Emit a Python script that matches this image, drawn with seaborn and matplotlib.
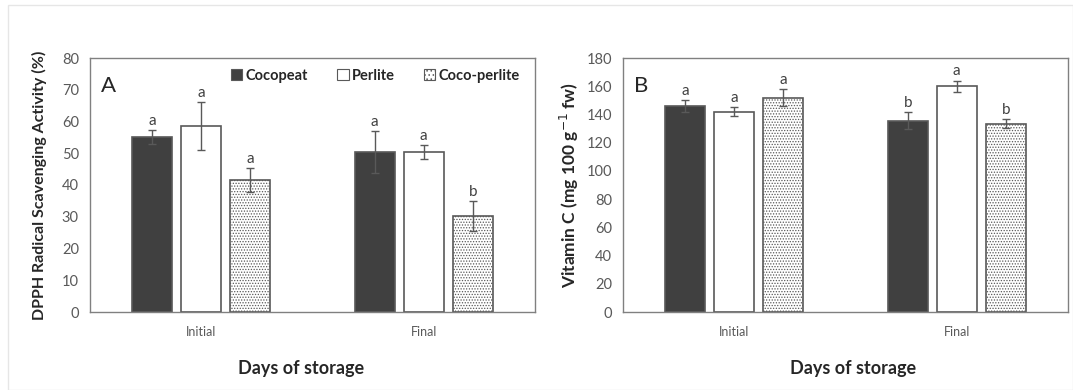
import matplotlib
matplotlib.use("Agg")
import matplotlib.pyplot as plt
import seaborn as sns
import pandas as pd
import numpy as np
from matplotlib.patches import Rectangle, Patch

sns.set_style("white")
plt.rcParams['font.family'] = ['Lato', 'DejaVu Sans']
plt.rcParams['hatch.linewidth'] = 0.6

days = ["Initial", "Final"]
substrates = ["Cocopeat", "Perlite", "Coco-perlite"]

dpph_initial = [55.0, 58.5, 41.5]
dpph_final = [50.5, 50.3, 30.3]
dpph_err_initial = [2.2, 7.6, 3.8]
dpph_err_final = [6.6, 2.2, 4.7]
dpph_letters_initial = ["a", "a", "a"]
dpph_letters_final = ["a", "a", "b"]

vitc_initial = [146.0, 142.0, 152.0]
vitc_final = [135.5, 160.0, 133.5]
vitc_err_initial = [4.5, 3.0, 6.0]
vitc_err_final = [6.0, 4.0, 3.0]
vitc_letters_initial = ["a", "a", "a"]
vitc_letters_final = ["b", "a", "b"]

edge = "#595959"
tick_col = "#595959"
fills = {"Cocopeat": "#404040", "Perlite": "#ffffff", "Coco-perlite": "#ffffff"}


def make_df(init, fin, ei, ef, li, lf):
    rows = []
    for d, vals, errs, lets in [("Initial", init, ei, li), ("Final", fin, ef, lf)]:
        for s, v, e, l in zip(substrates, vals, errs, lets):
            rows.append(dict(day=d, substrate=s, value=v, err=e, letter=l))
    return pd.DataFrame(rows)


df_a = make_df(dpph_initial, dpph_final, dpph_err_initial, dpph_err_final,
               dpph_letters_initial, dpph_letters_final)
df_b = make_df(vitc_initial, vitc_final, vitc_err_initial, vitc_err_final,
               vitc_letters_initial, vitc_letters_final)

fig = plt.figure(figsize=(10.73, 3.90), dpi=100)
fig.patches.append(Rectangle((8 / 1073, 0), 1 - 8 / 1073, 1 - 5 / 390, transform=fig.transFigure,
                             fill=False, edgecolor="#e6e6e6", linewidth=1.0, zorder=-1))
ax_a = fig.add_axes([90 / 1073, 1 - 312 / 390, 445 / 1073, 254 / 390])
ax_b = fig.add_axes([623 / 1073, 1 - 312 / 390, 445 / 1073, 254 / 390])


def draw(ax, df, ymax, ystep, ylabel, ylsize, letter_off, panel, xl_x, yl_x):
    sns.barplot(data=df, x="day", y="value", hue="substrate", order=days,
                hue_order=substrates, palette=fills, width=0.66, gap=0.18,
                errorbar=None, edgecolor=edge, linewidth=1.2, legend=False, ax=ax)
    # patches: ordered by hue then by x
    for i, s in enumerate(substrates):
        for j, d in enumerate(days):
            p = ax.patches[i * len(days) + j]
            row = df[(df.substrate == s) & (df.day == d)].iloc[0]
            if s == "Coco-perlite":
                p.set_hatch("......")
            cx = p.get_x() + p.get_width() / 2
            ax.errorbar(cx, row.value, yerr=row.err, fmt="none", ecolor="#595959",
                        elinewidth=1.0, capsize=3, capthick=1.0, zorder=5)
            ax.text(cx, row.value + row.err + letter_off, row.letter, ha="center",
                    va="bottom", fontsize=11, color="#404040")
    ax.set_ylim(0, ymax)
    ax.set_yticks(np.arange(0, ymax + 1, ystep))
    ax.set_xlim(-0.5, 1.5)
    ax.set_xlabel("Days of storage", fontsize=13, fontweight="bold", color="#262626")
    ax.xaxis.set_label_coords(xl_x, -0.19)
    ax.set_ylabel(ylabel, fontsize=ylsize, fontweight="bold", color="#262626")
    ax.yaxis.set_label_coords(yl_x, 0.5)
    ax.tick_params(axis="y", labelsize=10.5, colors=tick_col, length=0, pad=8)
    ax.tick_params(axis="x", labelsize=9, colors=tick_col, length=0, pad=10)
    for sp in ax.spines.values():
        sp.set_color("#808080")
        sp.set_linewidth(1.0)
    ax.text(0.025, 0.93, panel, transform=ax.transAxes, fontsize=16, va="top", ha="left", color="#262626")


draw(ax_a, df_a, 80, 10, "DPPH Radical Scavenging Activity (%)", 11.5, 0.6, "A", 0.474, -0.097)
draw(ax_b, df_b, 180, 20, "Vitamin C (mg 100 g$^{-1}$ fw)", 12.5, 1.5, "B", 0.517, -0.094)

handles = [Patch(facecolor="#404040", edgecolor=edge, linewidth=0.8),
           Patch(facecolor="white", edgecolor=edge, linewidth=0.8),
           Patch(facecolor="white", edgecolor=edge, hatch="....", linewidth=0.8)]
leg = ax_a.legend(handles, substrates, ncol=3, frameon=False, loc="center right",
                  bbox_to_anchor=(0.965, 0.93), borderaxespad=0, borderpad=0,
                  handlelength=0.8, handleheight=0.8,
                  handletextpad=0.2, columnspacing=2.0,
                  prop={"weight": "bold", "size": 10.5})
for t in leg.get_texts():
    t.set_color("#262626")

fig.savefig("out.png", dpi=100)
